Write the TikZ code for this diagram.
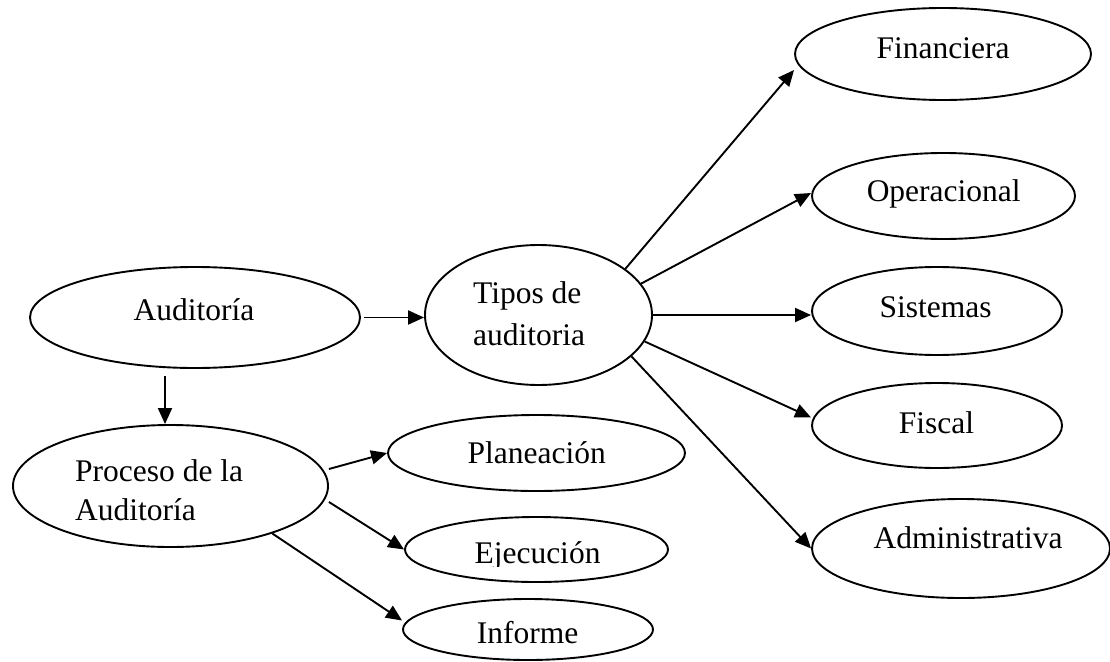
\documentclass[tikz,border=0pt]{standalone}
\usepackage{fontspec}
\setmainfont{Liberation Serif}
\usetikzlibrary{arrows.meta,calc,shapes.geometric}
\begin{document}
\begin{tikzpicture}[x=1pt,y=-1pt,
  oval/.style={draw,ellipse,line width=1.9pt,inner sep=0pt},
  lbl/.style={inner sep=0pt,anchor=base,font=\fontsize{31.5pt}{37pt}\selectfont},
  lblw/.style={lbl,anchor=base west},
  arr/.style={line width=1.9pt,-{Triangle[length=16pt,width=14pt]}}]
\useasboundingbox (0,0) rectangle (1110,661);
% ellipses
\node[oval,minimum width=330pt,minimum height=101pt] (aud) at (195,317.5) {};
\node[oval,minimum width=227pt,minimum height=140pt] (tipos) at (538.5,315) {};
\node[oval,minimum width=296pt,minimum height=92pt] (fin) at (943,54) {};
\node[oval,minimum width=263pt,minimum height=86pt] (oper) at (943.5,196) {};
\node[oval,minimum width=250pt,minimum height=88pt] (sis) at (937,311) {};
\node[oval,minimum width=250pt,minimum height=85pt] (fis) at (937,425.5) {};
\node[oval,minimum width=298pt,minimum height=99pt] (adm) at (961,548.5) {};
\node[oval,minimum width=315pt,minimum height=122pt] (proc) at (170.5,486) {};
\node[oval,minimum width=297pt,minimum height=76pt] (plan) at (536.5,453) {};
\node[oval,minimum width=263pt,minimum height=65pt] (ejec) at (536.5,549.5) {};
\node[oval,minimum width=250pt,minimum height=61pt] (inf) at (528,629.5) {};
% labels
\node[lbl] (audT) at (194,320) {Auditoría};
\node[lblw] (tiposT1) at (473,303) {Tipos de};
\node[lblw] (tiposT2) at (473,345) {auditoria};
\node[lbl] (finT) at (943,58.3) {Financiera};
\node[lbl] (operT) at (943.7,201.7) {Operacional};
\node[lbl] (sisT) at (935.5,317) {Sistemas};
\node[lbl] (fisT) at (936.5,433) {Fiscal};
\node[lbl] (admT) at (968,548) {Administrativa};
\node[lblw] (procT1) at (75,481.7) {Proceso de la};
\node[lblw] (procT2) at (75,520) {Auditoría};
\node[lbl] (planT) at (536.7,463) {Planeación};
\begin{scope}
\clip (400,510) rectangle (680,566);
\node[lbl] (ejecT) at (537.5,563) {Ejecución};
\end{scope}
\node[lbl] (infT) at (527.5,643) {Informe};
% connectors
\draw[arr,shorten <=3pt] (aud.east) -- (aud.east -| tipos.west);
\coordinate (a1) at ($(aud.south)+(-30,7)$);
\draw[arr] (a1) -- (a1 |- proc.north);
\draw[arr] ($(proc.east)+(0,-17)$) -- (plan.west);
\draw[arr] ($(proc.east)+(0,16)$) -- (ejec.west);
\draw[arr] (proc.-25) -- ($(inf.west)+(0,-9)$);
\draw[arr] (tipos.28) -- ($(fin.west)+(0,16)$);
\draw[arr] (tipos.17.5) -- ($(oper.west)+(0,-3)$);
\draw[arr] (tipos.east) -- (tipos.east -| sis.west);
\draw[arr] (tipos.-14.5) -- ($(fis.west)+(0,-8)$);
\draw[arr] (tipos.-24.7) -- (adm.west);
\end{tikzpicture}
\end{document}
